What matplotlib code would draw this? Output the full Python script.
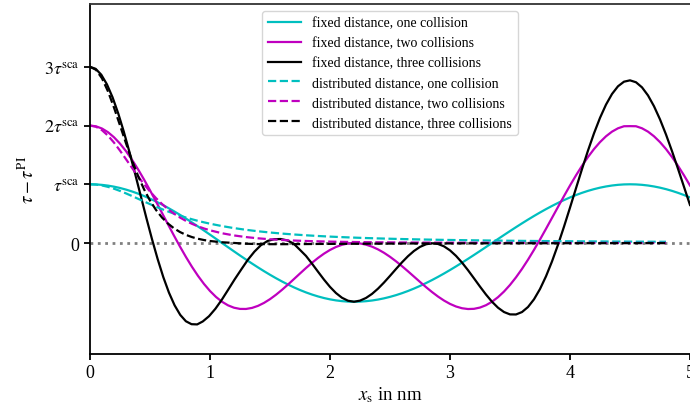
import matplotlib
matplotlib.use("Agg")
import matplotlib.pyplot as plt

# sample positions (nm) for the fixed-distance curves
x_fixed = [0.0, 0.05, 0.1, 0.15, 0.2, 0.25, 0.3, 0.35, 0.4, 0.45,
           0.5, 0.55, 0.6, 0.65, 0.7, 0.75, 0.8, 0.85, 0.9, 0.95,
           1.0, 1.05, 1.1, 1.15, 1.2, 1.25, 1.3, 1.35, 1.4, 1.45,
           1.5, 1.55, 1.6, 1.65, 1.7, 1.75, 1.8, 1.85, 1.9, 1.95,
           2.0, 2.05, 2.1, 2.15, 2.2, 2.25, 2.3, 2.35, 2.4, 2.45,
           2.5, 2.55, 2.6, 2.65, 2.7, 2.75, 2.8, 2.85, 2.9, 2.95,
           3.0, 3.05, 3.1, 3.15, 3.2, 3.25, 3.3, 3.35, 3.4, 3.45,
           3.5, 3.55, 3.6, 3.65, 3.7, 3.75, 3.8, 3.85, 3.9, 3.95,
           4.0, 4.05, 4.1, 4.15, 4.2, 4.25, 4.3, 4.35, 4.4, 4.45,
           4.5, 4.55, 4.6, 4.65, 4.7, 4.75, 4.8, 4.85, 4.9, 4.95, 5.0]

# the three-collision curve is sampled a little denser near the start
x_three = [0.0, 0.047, 0.094, 0.141, 0.188, 0.235, 0.282, 0.329, 0.376, 0.423,
           0.47, 0.517, 0.564, 0.611, 0.658, 0.705, 0.752, 0.799, 0.846, 0.893,
           0.94, 0.992, 1.045, 1.098, 1.151, 1.205, 1.26, 1.315, 1.37, 1.425,
           1.48, 1.535, 1.59, 1.643, 1.696, 1.748, 1.8, 1.85, 1.9, 1.95,
           2.0, 2.05, 2.1, 2.15, 2.2, 2.25, 2.3, 2.35, 2.4, 2.45,
           2.5, 2.55, 2.6, 2.65, 2.7, 2.75, 2.8, 2.85, 2.9, 2.95,
           3.0, 3.05, 3.1, 3.15, 3.2, 3.25, 3.3, 3.35, 3.4, 3.45,
           3.5, 3.55, 3.6, 3.65, 3.7, 3.75, 3.8, 3.85, 3.9, 3.95,
           4.0, 4.05, 4.1, 4.15, 4.2, 4.25, 4.3, 4.35, 4.4, 4.45,
           4.5, 4.55, 4.6, 4.65, 4.7, 4.75, 4.8, 4.85, 4.9, 4.95, 5.0]

# fixed distance (units of tau_sca)
fixed_one = [1, .9975, .9898, .9772, .9595, .9370, .9096, .8777, .8413, .8006,
             .7558, .7071, .6549, .5993, .5406, .4793, .4154, .3495, .2817, .2126,
             .1423, .0713, 0, -.0713, -.1423, -.2126, -.2817, -.3495, -.4154, -.4793,
             -.5406, -.5993, -.6549, -.7071, -.7558, -.8006, -.8413, -.8777, -.9096, -.9370,
             -.9595, -.9772, -.9898, -.9975, -1, -.9977, -.9907, -.9791, -.9629, -.9423,
             -.9172, -.8879, -.8544, -.8170, -.7757, -.7308, -.6826, -.6311, -.5767, -.5196,
             -.4601, -.3984, -.3349, -.2698, -.2035, -.1362, -.0682, 0, .0682, .1362,
             .2035, .2698, .3349, .3984, .4601, .5196, .5767, .6311, .6826, .7308,
             .7757, .8170, .8544, .8879, .9172, .9423, .9629, .9791, .9907, .9977,
             1, .9977, .9907, .9791, .9629, .9423, .9172, .8879, .8544, .8170, .7757]
fixed_two = [2, 1.9873, 1.9493, 1.8868, 1.8007, 1.6927, 1.5645, 1.4183, 1.2567, 1.0823,
             .8981, .7071, .5126, .3176, .1252, -.0614, -.2394, -.4063, -.5595, -.6971,
             -.8172, -.9185, -1, -1.0612, -1.1018, -1.1222, -1.1230, -1.1052, -1.0703, -1.0199,
             -.9561, -.8810, -.7972, -.7071, -.6134, -.5189, -.4258, -.3370, -.2548, -.1812,
             -.1182, -.0675, -.0303, -.0076, 0, -.0070, -.0278, -.0619, -.1085, -.1666,
             -.2347, -.3112, -.3944, -.4821, -.5723, -.6626, -.7508, -.8345, -.9116, -.9797,
             -1.0368, -1.0810, -1.1106, -1.1242, -1.1207, -1.0991, -1.0589, -1, -.9225, -.8267,
             -.7138, -.5846, -.4408, -.2842, -.1166, .0595, .2418, .4276, .6143, .7991,
             .9792, 1.1519, 1.3145, 1.4646, 1.5998, 1.7180, 1.8173, 1.8963, 1.9536, 1.9884,
             1.99, 1.9884, 1.9536, 1.8963, 1.8173, 1.7180, 1.5998, 1.4646, 1.3145, 1.1519, .9792]
fixed_three = [3, 2.9662, 2.8659, 2.7023, 2.4807, 2.2084, 1.8937, 1.5469, 1.1788, .8012,
               .4246, .0628, -.2752, -.5815, -.8453, -1.0608, -1.2242, -1.3322, -1.3823, -1.3862,
               -1.3355, -1.2462, -1.1197, -.9669, -.7965, -.6207, -.4520, -.2867, -.1473, -.0354,
               .035, .065, .068, .045, -.0083, -.1130, -.2199, -.3508, -.4884, -.6233,
               -.7472, -.8524, -.9324, -.9829, -1.0, -.9812, -.9358, -.8666, -.7774, -.6731,
               -.5595, -.4426, -.3289, -.2244, -.1352, -.0662, -.0216, -.0044, -.0161, -.0568,
               -.1254, -.2188, -.3331, -.4628, -.6017, -.7425, -.8778, -1.0, -1.1015, -1.1753,
               -1.2155, -1.2168, -1.1756, -1.0898, -.9587, -.7835, -.5670, -.3138, -.0295, .2784,
               .6019, .9320, 1.2592, 1.5742, 1.8677, 2.1310, 2.3565, 2.5376, 2.6690, 2.7472,
               2.77, 2.7374, 2.6507, 2.5131, 2.3292, 2.1051, 1.8476, 1.5647, 1.2647, .9563, .6479]

# sample positions (nm) for the distributed-distance curves
x_dist = [0.0, 0.05, 0.1, 0.15, 0.2, 0.25, 0.3, 0.35, 0.4, 0.45,
          0.5, 0.55, 0.6, 0.65, 0.7, 0.75, 0.8, 0.85, 0.9, 0.95,
          1.0, 1.1, 1.2, 1.3, 1.4, 1.5, 1.6, 1.7, 1.8, 1.9,
          2.0, 2.1, 2.2, 2.3, 2.4, 2.5, 2.6, 2.7, 2.8, 2.9,
          3.0, 3.1, 3.2, 3.3, 3.4, 3.5, 3.6, 3.7, 3.8, 3.9,
          4.0, 4.1, 4.2, 4.3, 4.4, 4.5, 4.6, 4.7, 4.8]

dist_one = [1, .9949, .98, .9561, .9245, .8869, .8448, .8, .7538, .7076,
            .6622, .6183, .5765, .537, .5, .4656, .4336, .4041, .3769, .3519,
            .3289, .2882, .2539, .2248, .2, .1788, .1607, .145, .1314, .1195,
            .1091, .1, .0919, .0848, .0784, .0727, .0676, .063, .0588, .0551,
            .0516, .0485, .0457, .0431, .0407, .0385, .0364, .0346, .0328, .0312,
            .0297, .0283, .027, .0258, .0247, .0236, .0226, .0217, .0208]
dist_two = [2, 1.9797, 1.9208, 1.8282, 1.7095, 1.5731, 1.4275, 1.28, 1.1366, 1.0013,
            .8769, .7646, .6646, .5767, .5, .4335, .3761, .3266, .2841, .2476,
            .2163, .1662, .1289, .101, .08, .064, .0516, .042, .0345, .0286,
            .0238, .02, .0169, .0144, .0123, .0106, .0091, .0079, .0069, .0061,
            .0053, .0047, .0042, .0037, .0033, .003, .0027, .0024, .0022, .0019,
            .0018, .0016, .0015, .0013, .0012, .0011, .001, .0009, .0009]
dist_three = [3, 2.9495, 2.8044, 2.5818, 2.3062, 2.0037, 1.6982, 1.408, 1.1453, .9164,
              .7229, .5632, .434, .331, .25, .1869, .1381, .1007, .0721, .0505,
              .0341, .0127, .001, -.012, -.018, -.02, -.02, -.019, -.018, -.016,
              -.015, -.014, -.013, -.012, -.011, -.01, -.009, -.008, -.008, -.007,
              -.007, -.006, -.006, -.005, -.005, -.005, -.004, -.004, -.004, -.004,
              -.003, -.003, -.003, -.003, -.003, -.002, -.002, -.002, -.002]

ytick_vals = [0, 1, 2, 3]
ytick_labels = ['0', r'$\tau^{\mathrm{sca}}$', r'$2\tau^{\mathrm{sca}}$', r'$3\tau^{\mathrm{sca}}$']

plt.rcParams['font.family'] = 'serif'
plt.rcParams['font.serif'] = ['Liberation Serif', 'DejaVu Serif']
plt.rcParams['mathtext.fontset'] = 'stix'

fig = plt.figure(figsize=(6.9, 4.06), dpi=100)
ax = fig.add_axes([90 / 690, 51 / 406, 600 / 690, 350 / 406])

ax.axhline(0, color='gray', ls=':', lw=2)

ax.plot(x_fixed, fixed_one, color='c', lw=1.6, label='fixed distance, one collision')
ax.plot(x_fixed, fixed_two, color='m', lw=1.6, label='fixed distance, two collisions')
ax.plot(x_three, fixed_three, color='k', lw=1.6, label='fixed distance, three collisions')
ax.plot(x_dist, dist_one, color='c', ls='--', lw=1.6, label='distributed distance, one collision')
ax.plot(x_dist, dist_two, color='m', ls='--', lw=1.6, label='distributed distance, two collisions')
ax.plot(x_dist, dist_three, color='k', ls='--', lw=1.6, label='distributed distance, three collisions')

ax.set_xlim(0, 5)
ax.set_ylim(-1.89, 4.07)
ax.set_yticks(ytick_vals)
ax.set_yticklabels(ytick_labels)
ax.tick_params(labelsize=13, width=1.3, length=4)
for s in ax.spines.values():
    s.set_linewidth(1.3)
ax.spines['top'].set_color('#333333')
ax.spines['right'].set_visible(False)

ax.set_xlabel(r'$x_{\mathrm{s}}$ in nm', fontsize=13.5, labelpad=2)
ax.set_ylabel(r'$\tau - \tau^{\mathrm{PI}}$', fontsize=13.5)

ax.legend(loc='upper center', fontsize=10, handlelength=2.4)

plt.savefig('out.png', dpi=100)
